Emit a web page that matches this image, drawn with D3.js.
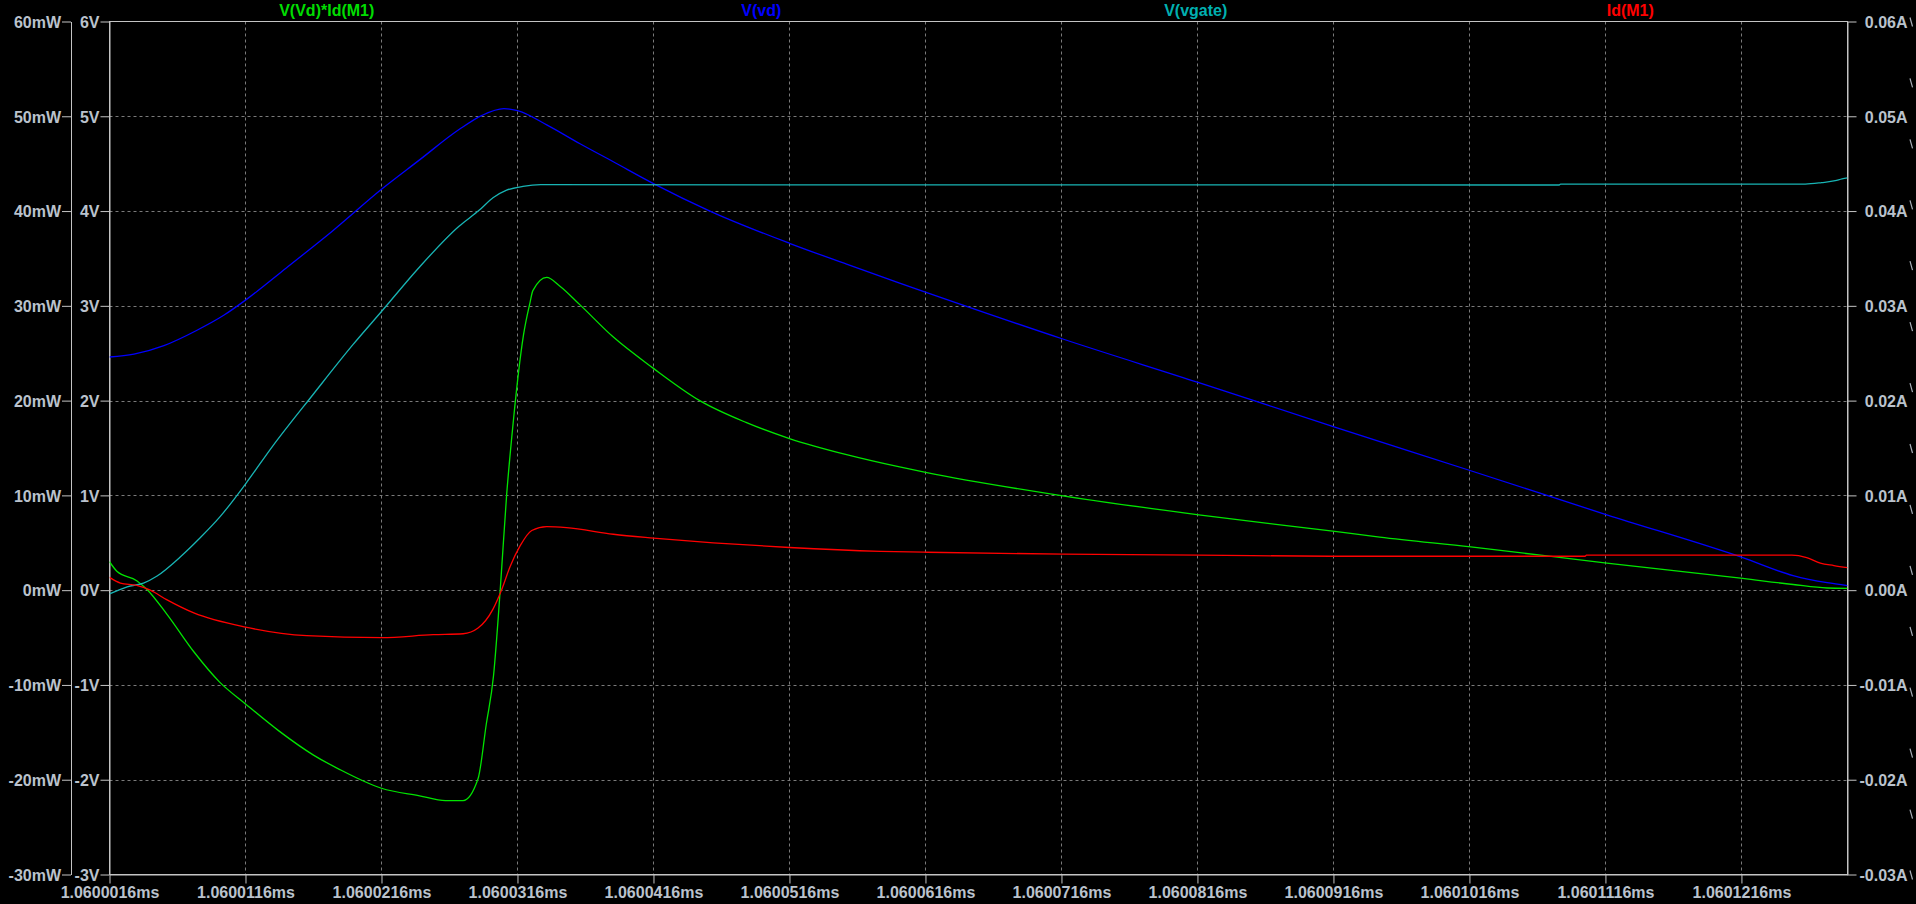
<!DOCTYPE html>
<html>
<head>
<meta charset="utf-8">
<script src="https://cdn.jsdelivr.net/npm/d3@7"></script>
<style>
html, body { margin: 0; padding: 0; background: #000; }
svg { display: block; }
</style>
</head>
<body>
<svg id="chart" width="1916" height="904"></svg>
<script>
// ---- data (time in ns after 1.06 ms) ----
const seriesNames = ["V(Vd)*Id(M1)", "V(vd)", "V(vgate)", "Id(M1)"];

// V(Vd)*Id(M1) in mW
const powerData = [
  [1.6, 3.0], [2.14, 2.0], [3.6, 1.0], [4.34, 0.1], [5.8, -2.5], [7.8, -6.5], [9.7, -9.7],
  [11.6, -12.0], [14.1, -14.9], [16.6, -17.4], [18.5, -18.9], [21.6, -20.9], [24.4, -21.7],
  [26.3, -22.2], [27.6, -22.2], [28.7, -19.9], [29.3, -14.2], [29.84, -9.0], [30.33, 0.0],
  [30.8, 10.0], [31.3, 17.9], [31.67, 22.9], [32.04, 26.9], [32.53, 30.4], [32.73, 31.6],
  [33.75, 33.0], [34.7, 32.1], [36.2, 30.1], [38.65, 26.7], [41.6, 23.4], [45.0, 20.0],
  [48.4, 17.7], [51.6, 16.0], [55.8, 14.3], [59.7, 13.0], [61.7, 12.4], [71.7, 9.95],
  [81.7, 7.95], [91.7, 6.2], [95.0, 5.6], [101.7, 4.56], [111.7, 2.86], [121.7, 1.24],
  [125.4, 0.6], [127.9, 0.23], [129.4, 0.19]
];

// V(vd) in V
const vdData = [
  [1.6, 2.46], [3.4, 2.49], [5.6, 2.58], [8.0, 2.74], [10.0, 2.90], [11.6, 3.06], [14.6, 3.40],
  [18.0, 3.79], [21.6, 4.23], [24.4, 4.54], [27.3, 4.86], [29.0, 5.01], [30.6, 5.08],
  [31.6, 5.06], [33.75, 4.91], [36.2, 4.71], [38.65, 4.52], [41.6, 4.29], [45.75, 4.0],
  [51.6, 3.66], [55.8, 3.44], [59.7, 3.24], [61.7, 3.14], [71.7, 2.65], [81.7, 2.19],
  [91.7, 1.72], [101.7, 1.26], [111.7, 0.795], [121.7, 0.343], [125.4, 0.154],
  [127.9, 0.079], [129.4, 0.049]
];

// V(vgate) in V
const vgateData = [
  [1.6, -0.04], [2.9, 0.035], [4.1, 0.075], [5.1, 0.15], [6.8, 0.35], [8.25, 0.55],
  [9.7, 0.77], [11.6, 1.12], [13.6, 1.52], [16.6, 2.07], [19.5, 2.59], [21.6, 2.94],
  [24.4, 3.41], [27.3, 3.84], [28.8, 4.01], [29.8, 4.14], [30.8, 4.22], [32.0, 4.26],
  [33.3, 4.278], [60.0, 4.276], [108.2, 4.275], [108.3, 4.285], [126.3, 4.285],
  [127.5, 4.30], [128.5, 4.32], [129.0, 4.34], [129.4, 4.35]
];

// Id(M1) in A
const idData = [
  [1.6, 0.00135], [2.4, 0.00075], [3.6, 0.0005], [4.6, 0.0], [5.8, -0.0010], [7.8, -0.0024],
  [11.6, -0.0039], [16.1, -0.0048], [21.6, -0.0050], [25.4, -0.0047], [27.6, -0.0046],
  [28.7, -0.0040], [29.8, -0.0020], [30.45, 0.0001], [31.06, 0.0025], [31.8, 0.0047],
  [32.65, 0.0063], [33.75, 0.0067], [35.2, 0.0066], [38.65, 0.0059], [41.6, 0.0055],
  [46.0, 0.0050], [51.6, 0.0045], [58.3, 0.0041], [61.7, 0.0040], [71.7, 0.0038],
  [81.7, 0.0037], [91.7, 0.00358], [110.1, 0.00358], [110.2, 0.00369], [125.3, 0.00369],
  [126.4, 0.00343], [127.4, 0.00286], [128.4, 0.0026], [129.4, 0.00237]
];

// ---- ticks ----
const xTicks = [1.6, 11.6, 21.6, 31.6, 41.6, 51.6, 61.6, 71.6, 81.6, 91.6, 101.6, 111.6, 121.6];
const xTickLabels = ["1.0600016ms", "1.0600116ms", "1.0600216ms", "1.0600316ms", "1.0600416ms",
  "1.0600516ms", "1.0600616ms", "1.0600716ms", "1.0600816ms", "1.0600916ms", "1.0601016ms",
  "1.0601116ms", "1.0601216ms"];
const mwTicks = [-30, -20, -10, 0, 10, 20, 30, 40, 50, 60];
const mwTickLabels = ["-30mW", "-20mW", "-10mW", "0mW", "10mW", "20mW", "30mW", "40mW", "50mW", "60mW"];
const vTicks = [-3, -2, -1, 0, 1, 2, 3, 4, 5, 6];
const vTickLabels = ["-3V", "-2V", "-1V", "0V", "1V", "2V", "3V", "4V", "5V", "6V"];
const aTicks = [-0.03, -0.02, -0.01, 0, 0.01, 0.02, 0.03, 0.04, 0.05, 0.06];
const aTickLabels = ["-0.03A", "-0.02A", "-0.01A", "0.00A", "0.01A", "0.02A", "0.03A", "0.04A", "0.05A", "0.06A"];

// ---- layout ----
const L = 109.5, R = 1847.5, T = 21.5, B = 874.5;
const FONT = "'Liberation Sans', Arial, sans-serif";
const AXIS_COLOR = "#c4c4c4";
const TEXT_COLOR = "#bac2cc";
const GRID_COLOR = "#7a7a7a";
const colors = ["#00e400", "#0000ff", "#18b4b4", "#ff0000"];
const titleColors = ["#00dd00", "#0000ff", "#00b0b0", "#ff0000"];

const svg = d3.select("#chart");
svg.append("rect").attr("width", 1916).attr("height", 904).attr("fill", "#000");

const x = d3.scaleLinear().domain([1.6, 129.4]).range([L, R]);
const yV = d3.scaleLinear().domain([-3, 6]).range([B, T]);
const yMW = d3.scaleLinear().domain([-30, 60]).range([B, T]);
const yA = d3.scaleLinear().domain([-0.03, 0.06]).range([B, T]);

// grid
const grid = svg.append("g");
grid.selectAll("line.h").data(vTicks.slice(1, -1)).join("line")
  .attr("x1", L).attr("x2", R)
  .attr("y1", d => Math.round(yV(d)) + 0.5).attr("y2", d => Math.round(yV(d)) + 0.5)
  .attr("stroke", GRID_COLOR).attr("stroke-width", 1).attr("stroke-dasharray", "3,3");
grid.selectAll("line.v").data(xTicks.slice(1)).join("line")
  .attr("x1", d => Math.round(x(d)) + 0.5).attr("x2", d => Math.round(x(d)) + 0.5)
  .attr("y1", T).attr("y2", B)
  .attr("stroke", GRID_COLOR).attr("stroke-width", 1).attr("stroke-dasharray", "3,3");

// frame
svg.append("rect").attr("x", L).attr("y", T).attr("width", R - L).attr("height", B - T)
  .attr("fill", "none").attr("stroke", AXIS_COLOR).attr("stroke-width", 1);

function styleAxis(g) {
  g.select(".domain").attr("stroke", AXIS_COLOR);
  g.selectAll(".tick line").attr("stroke", AXIS_COLOR);
  g.selectAll(".tick text").attr("fill", TEXT_COLOR)
    .attr("font-family", FONT).attr("font-weight", "bold").attr("font-size", 16);
}

// left mW axis
const gMW = svg.append("g").attr("transform", "translate(71,0)")
  .call(d3.axisLeft(yMW).tickValues(mwTicks).tickSize(9).tickSizeOuter(0).tickPadding(1)
    .tickFormat((d, i) => mwTickLabels[i]));
styleAxis(gMW);
gMW.selectAll(".tick text").attr("dy", "0.36em");

// left V axis
const gV = svg.append("g").attr("transform", `translate(${L},0)`)
  .call(d3.axisLeft(yV).tickValues(vTicks).tickSize(9).tickSizeOuter(0).tickPadding(1)
    .tickFormat((d, i) => vTickLabels[i]));
styleAxis(gV);
gV.selectAll(".tick text").attr("dy", "0.36em");

// right A axis
const gA = svg.append("g").attr("transform", `translate(${R},0)`)
  .call(d3.axisRight(yA).tickValues(aTicks).tickSize(9).tickSizeOuter(0)
    .tickFormat((d, i) => aTickLabels[i]));
styleAxis(gA);
gA.selectAll(".tick text").attr("x", 60).attr("text-anchor", "end").attr("dy", "0.36em");

// bottom axis
const gX = svg.append("g").attr("transform", `translate(0,${B})`)
  .call(d3.axisBottom(x).tickValues(xTicks).tickSize(9).tickSizeOuter(0).tickPadding(3)
    .tickFormat((d, i) => xTickLabels[i]));
styleAxis(gX);

// small clipped marks at far right
const markScale = d3.scaleLinear().domain([0, 14]).range([T, B]);
svg.append("g").selectAll("line").data(d3.range(15)).join("line")
  .attr("x1", 1910).attr("x2", 1912.5)
  .attr("y1", d => markScale(d) - 4).attr("y2", d => markScale(d) + 5)
  .attr("stroke", "#a8b0ba").attr("stroke-width", 1.2);

// traces
const clip = svg.append("clipPath").attr("id", "plotclip")
  .append("rect").attr("x", L).attr("y", T).attr("width", R - L).attr("height", B - T);

const plot = svg.append("g").attr("clip-path", "url(#plotclip)");
const traces = [
  { data: powerData, y: yMW, color: colors[0] },
  { data: vdData, y: yV, color: colors[1] },
  { data: vgateData, y: yV, color: colors[2] },
  { data: idData, y: yA, color: colors[3] }
];
traces.forEach(tr => {
  const line = d3.line().x(d => x(d[0])).y(d => tr.y(d[1])).curve(d3.curveMonotoneX);
  plot.append("path").datum(tr.data).attr("d", line)
    .attr("fill", "none").attr("stroke", tr.color).attr("stroke-width", 1.3);
});

// titles
svg.append("g").selectAll("text").data(seriesNames).join("text")
  .attr("x", (d, i) => L + (R - L) * (i + 0.5) / 4)
  .attr("y", 16)
  .attr("text-anchor", "middle")
  .attr("fill", (d, i) => titleColors[i])
  .attr("font-family", FONT).attr("font-weight", "bold").attr("font-size", 16)
  .text(d => d);
</script>
</body>
</html>
